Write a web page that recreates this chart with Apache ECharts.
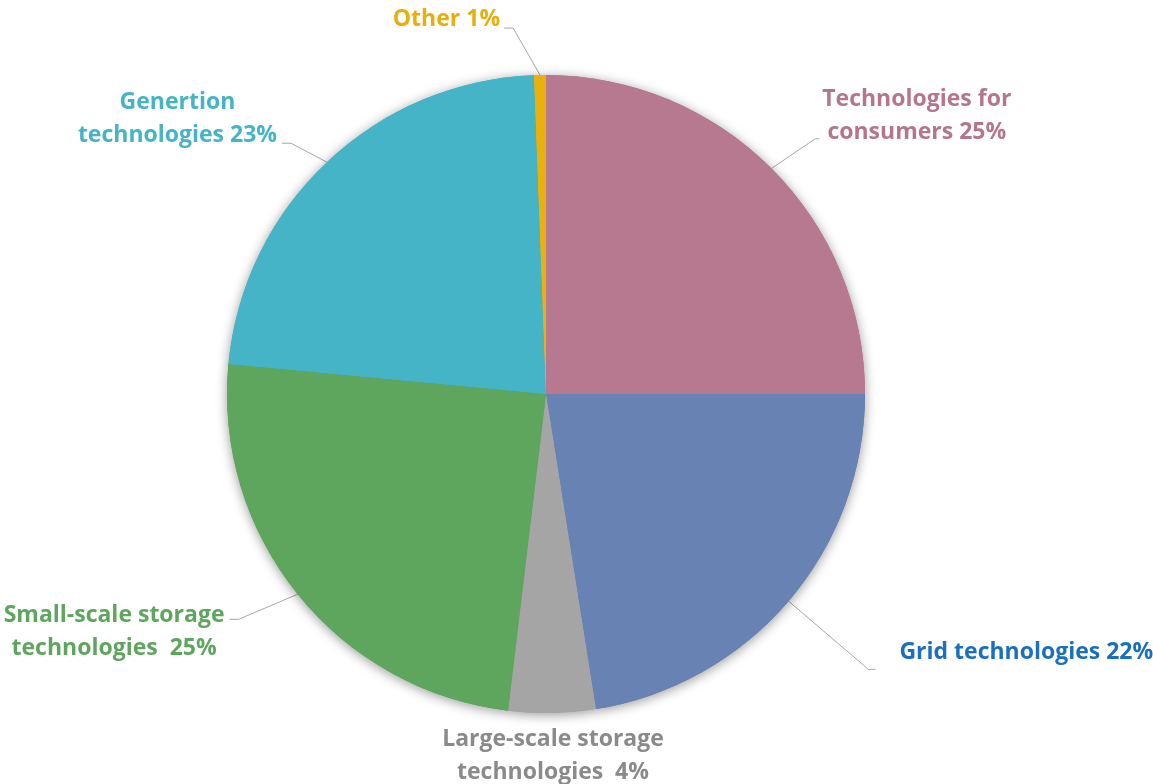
<!DOCTYPE html>
<html>
<head>
<meta charset="utf-8">
<script src="https://cdn.jsdelivr.net/npm/echarts@6/dist/echarts.min.js"></script>
<style>
  html, body { margin: 0; background: #fff; }
  #main { width: 1153px; height: 784px; }
</style>
</head>
<body>
<div id="main"></div>
<script>
// data, clockwise from 12 o'clock
const categories = ['Technologies for consumers', 'Grid technologies', 'Large-scale storage technologies',
  'Small-scale storage technologies', 'Genertion technologies', 'Other'];
const values = [25, 22.5, 4.4, 24.6, 22.9, 0.6];
const labelTexts = ['Technologies for\nconsumers 25%', 'Grid technologies 22%', 'Large-scale storage\ntechnologies  4%',
  'Small-scale storage\ntechnologies  25%', 'Genertion\ntechnologies 23%', 'Other 1%'];
const sliceColors = ['#B7798F', '#6882B4', '#A5A5A5', '#5EA65D', '#44B4C6', '#EAB00B'];
const textColors = ['#B5768C', '#1A6FC0', '#8A8A8A', '#5EA65D', '#44B4C6', '#E8AE0C'];

// label placement tweaks (line lengths, gap to text, text offset, bend of the elbow)
const labelCfg = [
  { len: 42, len2: 18, dist: 3, pad: [0, 0, 45, 0], bend: 14 },
  { len: 105, len2: 7, dist: 24, pad: [0, 0, 34, 0], bend: 0 },
  { len: 10, len2: 0, dist: 0, pad: 0, noLine: true },
  { len: 40, len2: 37, dist: 5, pad: [26, 0, 0, 0], bend: -28 },
  { len: 26, len2: 27, dist: 5, pad: [0, 0, 48, 0], bend: -18 },
  { len: 47, len2: 35, dist: 4, pad: [0, 0, 17, 0], bend: -26 }
];

let chart = echarts.init(document.getElementById('main'));

let font = { fontFamily: 'Open Sans', fontWeight: 'bold', fontSize: 23 };

let pieData = categories.map((name, i) => {
  let c = labelCfg[i];
  return {
    name: name,
    value: values[i],
    itemStyle: { color: sliceColors[i] },
    label: {
      color: textColors[i],
      padding: c.pad,
      distanceToLabelLine: c.dist,
      rich: { c: Object.assign({ align: 'center', lineHeight: 33, color: textColors[i] }, font) }
    },
    labelLine: { show: !c.noLine, length: c.len, length2: c.len2 }
  };
});

let option = {
  animation: false,
  series: [
    {
      // soft shadow under the pie
      type: 'pie',
      silent: true,
      center: [546, 394],
      radius: 319,
      startAngle: 90,
      label: { show: false },
      labelLine: { show: false },
      itemStyle: { shadowBlur: 12, shadowColor: 'rgba(0,0,0,0.4)', shadowOffsetY: 2 },
      data: categories.map((name, i) => ({ name: name, value: values[i], itemStyle: { color: sliceColors[i] } }))
    },
    {
      type: 'pie',
      center: [546, 394],
      radius: 319,
      startAngle: 90,
      avoidLabelOverlap: false,
      label: Object.assign({
        show: true,
        position: 'outside',
        formatter: function (p) {
          return labelTexts[p.dataIndex].split('\n').map(s => '{c|' + s + '}').join('\n');
        }
      }, font),
      labelLine: { lineStyle: { color: '#A6A6A6', width: 1 } },
      labelLayout: function (params) {
        let i = params.dataIndex;
        if (i === 2) {
          return { x: 553, y: 756, align: 'center', verticalAlign: 'middle' };
        }
        let pts = params.labelLinePoints;
        if (pts && labelCfg[i].bend) {
          return {
            labelLinePoints: [pts[0], [pts[1][0] + labelCfg[i].bend, pts[1][1]], pts[2]]
          };
        }
        return {};
      },
      data: pieData
    }
  ]
};

chart.setOption(option);
</script>
</body>
</html>
